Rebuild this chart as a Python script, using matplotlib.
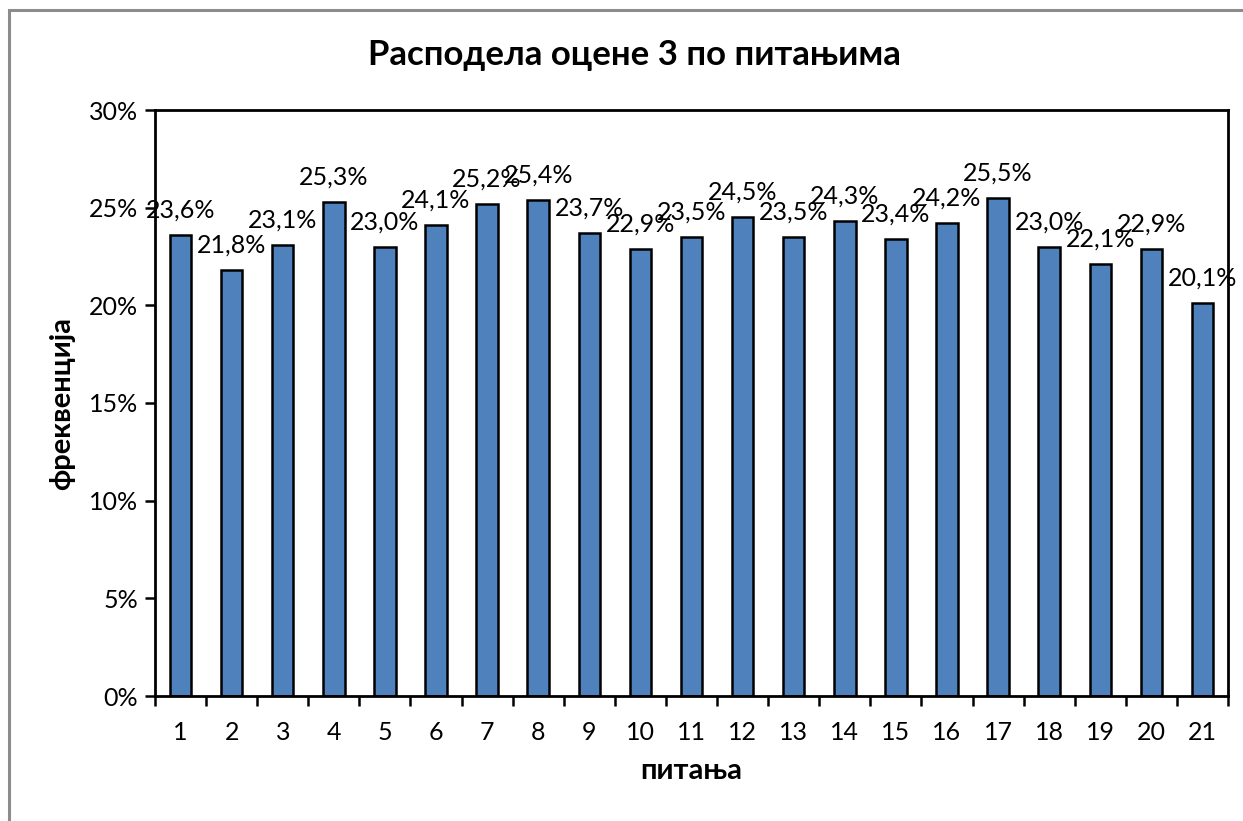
import matplotlib
matplotlib.use("Agg")
import matplotlib.pyplot as plt
from matplotlib.patches import Rectangle
from matplotlib.ticker import FuncFormatter, FixedLocator

plt.rcParams['font.family'] = ['Lato', 'DejaVu Sans']

questions = list(range(1, 22))
shares = [23.6, 21.8, 23.1, 25.3, 23.0, 24.1, 25.2, 25.4, 23.7, 22.9, 23.5,
          24.5, 23.5, 24.3, 23.4, 24.2, 25.5, 23.0, 22.1, 22.9, 20.1]
title = 'Расподела оцене 3 по питањима'
xlab = 'питања'
ylab = 'фреквенција'

fig = plt.figure(figsize=(12.43, 8.21), dpi=100)
ax = fig.add_axes([155 / 1243, 125 / 821, 1073 / 1243, 586 / 821])

# gray outer chart border
fig.patches.append(Rectangle((9 / 1243, -0.05), 1.2, 0.05 + 811 / 821,
                             transform=fig.transFigure, fill=False,
                             edgecolor='#8c8c8c', linewidth=2.2))

ax.bar(questions, shares, width=0.42, color='#4f81bd', edgecolor='black',
       linewidth=1.8, zorder=2)

for q, v in zip(questions, shares):
    ax.annotate(('%.1f%%' % v).replace('.', ','), (q, v), xytext=(0, 18),
                textcoords='offset points', ha='center', va='center',
                fontsize=18)

ax.set_xlim(0.5, 21.5)
ax.set_ylim(0, 30)
ax.set_yticks(range(0, 31, 5))
ax.yaxis.set_major_formatter(FuncFormatter(lambda y, p: '%d%%' % y))
ax.set_xticks(questions)
ax.set_xticklabels([str(q) for q in questions])
ax.xaxis.set_minor_locator(FixedLocator([i + 0.5 for i in range(0, 22)]))
ax.tick_params(axis='x', which='major', length=0, labelsize=18, pad=18)
ax.tick_params(axis='x', which='minor', length=7, width=1.8)
ax.tick_params(axis='y', length=7, width=1.8, labelsize=18, pad=5)

for s in ax.spines.values():
    s.set_linewidth(2)

ax.set_xlabel(xlab, fontsize=21, fontweight='bold', labelpad=10)
ax.set_ylabel(ylab, fontsize=21, fontweight='bold', labelpad=10)
fig.text(634 / 1243, 1 - 55 / 821, title, ha='center', va='center',
         fontsize=25, fontweight='bold')

fig.savefig('out.png', dpi=100)
